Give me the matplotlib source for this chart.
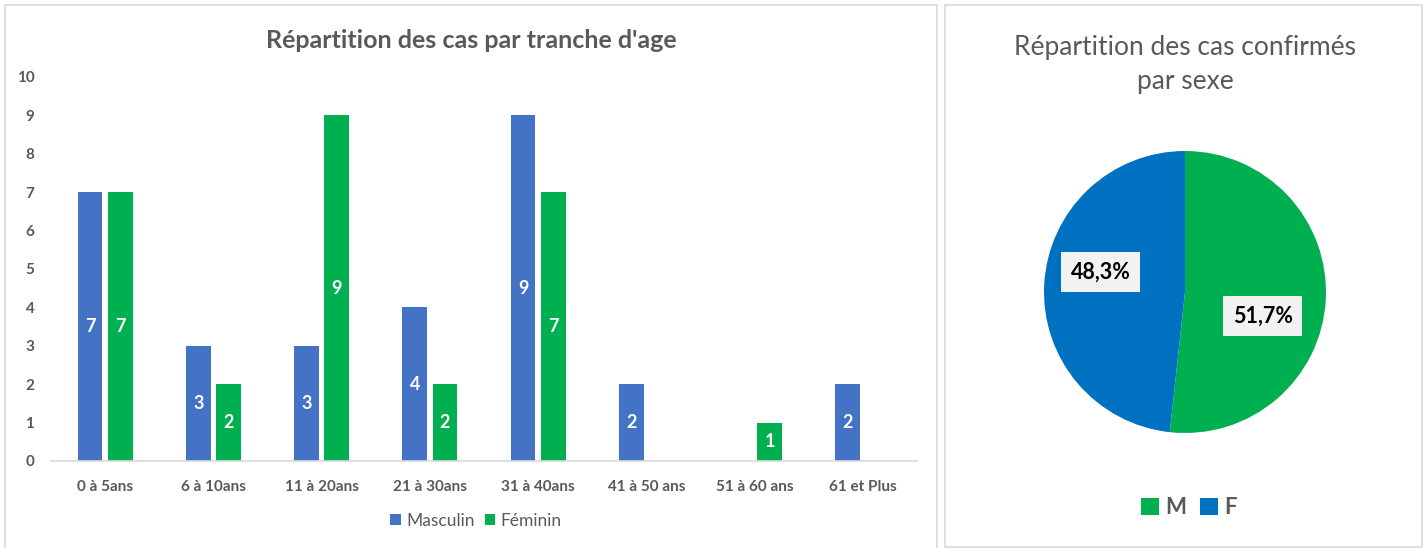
import matplotlib.pyplot as plt
from matplotlib.patches import Rectangle
import numpy as np

plt.rcParams['font.family'] = ['Lato', 'DejaVu Sans']

# donnees
tranches = ['0 à 5ans', '6 à 10ans', '11 à 20ans', '21 à 30ans',
            '31 à 40ans', '41 à 50 ans', '51 à 60 ans', '61 et Plus']
masculin = [7, 3, 3, 4, 9, 2, 0, 2]
feminin = [7, 2, 9, 2, 7, 0, 1, 0]
sexes = ['M', 'F']
cas_sexe = [sum(masculin), sum(feminin)]

W, H = 1428, 548
gris = '#595959'
bleu_bar = '#4472C4'
vert = '#00B050'
bleu_pie = '#0070C0'


def px(x0, y0, x1, y1):
    # pixel box (top-left origin) -> figure fraction
    return [x0 / W, 1 - y1 / H, (x1 - x0) / W, (y1 - y0) / H]


fig = plt.figure(figsize=(W / 100, H / 100), dpi=100)

# cadres des deux panneaux
for (x0, y0, x1, y1) in [(5, 5, 937, 560), (945, 5, 1422, 547)]:
    b = px(x0, y0, x1, y1)
    fig.add_artist(Rectangle((b[0], b[1]), b[2], b[3], transform=fig.transFigure,
                             fill=False, edgecolor='#d9d9d9', linewidth=1.2))

# ---- histogramme par tranche d'age
ax = fig.add_axes(px(51, 77, 917, 461))
x = np.arange(len(tranches))
larg = 0.23
dec = 0.14
b1 = ax.bar(x - dec, masculin, larg, color=bleu_bar, label='Masculin')
b2 = ax.bar(x + dec, feminin, larg, color=vert, label='Féminin')
for barres, vals in [(b1, masculin), (b2, feminin)]:
    for rect, v in zip(barres, vals):
        if v > 0:
            ax.text(rect.get_x() + rect.get_width() / 2, v / 2, str(v),
                    ha='center', va='center', color='white',
                    fontsize=13, fontweight='bold')

ax.set_xlim(-0.5, len(tranches) - 0.5)
ax.set_ylim(0, 10)
ax.set_yticks(range(0, 11))
ax.set_xticks(x)
ax.set_xticklabels(tranches)
for s in ['top', 'right', 'left']:
    ax.spines[s].set_visible(False)
ax.spines['bottom'].set_color('#d9d9d9')
ax.spines['bottom'].set_linewidth(1.2)
ax.tick_params(axis='both', length=0, colors=gris, labelsize=11)
ax.tick_params(axis='y', pad=12)
ax.tick_params(axis='x', pad=14)
for t in ax.get_xticklabels() + ax.get_yticklabels():
    t.set_fontweight('bold')

fig.text(471 / W, 1 - 40 / H, "Répartition des cas par tranche d'age",
         ha='center', va='center', fontsize=18, fontweight='bold', color=gris)

leg = fig.legend(handles=[b1, b2], loc='center', bbox_to_anchor=(476 / W, 1 - 521 / H),
                 ncol=2, frameon=False, fontsize=12.5, handlelength=0.6,
                 handleheight=0.6, handletextpad=0.3, columnspacing=0.6)
for t in leg.get_texts():
    t.set_color(gris)

# ---- camembert par sexe
axp = fig.add_axes(px(1044, 151, 1326, 433))
wedges, _ = axp.pie(cas_sexe, colors=[vert, bleu_pie], startangle=90,
                    counterclock=False, radius=1)
axp.set_xlim(-1, 1)
axp.set_ylim(-1, 1)
axp.set_aspect('equal')
total = sum(cas_sexe)
pos_lab = [(0.55, -0.17), (-0.60, 0.14)]
for v, (lx, ly) in zip(cas_sexe, pos_lab):
    pct = f"{100 * v / total:.1f}%".replace('.', ',')
    axp.text(lx, ly, pct, ha='center', va='center', fontsize=15.5,
             fontweight='bold', color='black',
             bbox=dict(boxstyle='square,pad=0.45', facecolor='#f2f2f2',
                       edgecolor='none'))

fig.text(1185 / W, 1 - 64 / H, "Répartition des cas confirmés\npar sexe",
         ha='center', va='center', fontsize=19, color=gris, linespacing=1.45)

legp = fig.legend(handles=wedges, labels=sexes, loc='center',
                  bbox_to_anchor=(1189 / W, 1 - 508 / H), ncol=2, frameon=False,
                  fontsize=16, handlelength=0.8, handleheight=0.8,
                  handletextpad=0.3, columnspacing=0.6)
for t in legp.get_texts():
    t.set_color(gris)
    t.set_fontweight('bold')

fig.savefig('out.png', dpi=100)
